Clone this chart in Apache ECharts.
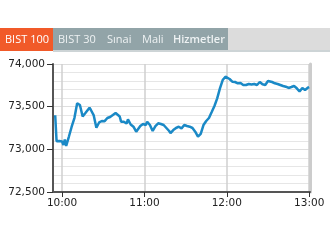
<!DOCTYPE html>
<html><head><meta charset="utf-8">
<script src="https://cdn.jsdelivr.net/npm/echarts@6/dist/echarts.min.js"></script>
<style>html,body{margin:0;padding:0;background:#fff}#c{width:330px;height:247px}</style>
</head><body><div id="c"></div>
<script>
var tabs = ['BIST 100', 'BIST 30', 'Sınai', 'Mali', 'Hizmetler'];
var times = ['09:55','09:56','09:58','10:00','10:01','10:02','10:03','10:05','10:07','10:09','10:11','10:12','10:13','10:15','10:17','10:18','10:20','10:21','10:23','10:25','10:27','10:29','10:31','10:33','10:35','10:37','10:39','10:40','10:42','10:43','10:45','10:47','10:48','10:50','10:52','10:54','10:55','10:57','10:59','11:01','11:02','11:04','11:06','11:08','11:10','11:12','11:14','11:16','11:18','11:19','11:21','11:23','11:25','11:27','11:29','11:31','11:33','11:35','11:37','11:39','11:41','11:43','11:45','11:47','11:49','11:51','11:53','11:55','11:57','11:59','12:00','12:02','12:04','12:06','12:08','12:10','12:12','12:14','12:16','12:18','12:20','12:22','12:24','12:26','12:28','12:30','12:31','12:33','12:35','12:37','12:39','12:41','12:43','12:45','12:47','12:49','12:51','12:53','12:55','12:57','12:59','13:00'];
var values = [73400,73095,73098,73092,73050,73115,73040,73150,73265,73367,73540,73525,73519,73385,73426,73422,73488,73461,73402,73253,73315,73332,73330,73367,73379,73402,73426,73431,73385,73324,73324,73303,73350,73291,73265,73207,73226,73273,73297,73285,73324,73285,73215,73273,73305,73297,73285,73250,73215,73191,73226,73250,73265,73246,73285,73273,73265,73250,73207,73148,73180,73285,73332,73367,73437,73508,73598,73715,73812,73851,73836,73824,73793,73789,73774,73777,73754,73754,73766,73760,73766,73754,73789,73762,73754,73801,73812,73789,73774,73766,73754,73742,73734,73719,73730,73742,73715,73678,73719,73695,73722,73730];
var xTicks = ['10:00','11:00','12:00','13:00'];

function toMin(s){var p=s.split(':');return (+p[0])*60+(+p[1]);}
function fmt(m){var h=Math.floor(m/60),mm=Math.round(m%60);return h+':'+(mm<10?'0':'')+mm;}
var data = times.map(function(t,i){return [toMin(t), values[i]];});
var xVals = xTicks.map(toMin);

var chart = echarts.init(document.getElementById('c'));
var tabX = [5, 58, 107, 142, 173];
var g = [
  {type:'rect', shape:{x:0,y:28,width:53,height:23}, style:{fill:'#f15a29'}},
  {type:'rect', shape:{x:53,y:28,width:175,height:23}, style:{fill:'#92a4a8'}},
  {type:'rect', shape:{x:228,y:28,width:102,height:23}, style:{fill:'#dcdcdc'}},
  {type:'rect', shape:{x:53,y:50,width:277,height:2}, style:{fill:'#cdd4d6'}}
];
tabs.forEach(function(t,i){
  g.push({type:'text', x:tabX[i], y:39.5, style:{text:t, fill: i===0?'#fff':'#eef2f3', font:(i===4?'600 ':'')+'11px "Open Sans"', textVerticalAlign:'middle'}});
});
chart.setOption({
  animation:false,
  backgroundColor:'#fff',
  graphic:g,
  grid:{left:53, right:20, top:64, bottom:55},
  xAxis:{type:'value', min:593.4, max:780.6,
    axisLine:{show:true, onZero:false, lineStyle:{color:'#555', width:2}},
    axisTick:{show:true, length:5, customValues:xVals, lineStyle:{color:'#333', width:1}},
    axisLabel:{customValues:xVals, formatter:function(v){return fmt(v);}, color:'#222', fontSize:10.5, fontFamily:'DejaVu Sans', margin:6},
    splitLine:{show:true, lineStyle:{color:'#cfcfcf', width:1.5}}
  },
  yAxis:[{type:'value', min:72500, max:74000, interval:500,
    axisLine:{show:true, lineStyle:{color:'#555', width:2}},
    axisTick:{show:true, length:6, lineStyle:{color:'#333', width:1}},
    axisLabel:{color:'#222', fontSize:10.5, fontFamily:'DejaVu Sans', margin:8, formatter:function(v){return v.toLocaleString('en-US');}},
    splitLine:{show:true, lineStyle:{color:'#dedede', width:1}},
    minorTick:{show:false, splitNumber:5},
    minorSplitLine:{show:true, lineStyle:{color:'#e6e6e6', width:1}}
  },{type:'value', min:72500, max:74000, position:'right',
    axisLine:{show:true, lineStyle:{color:'#cccccc', width:3}},
    axisTick:{show:false}, axisLabel:{show:false}, splitLine:{show:false}
  }],
  series:[{type:'line', data:data, showSymbol:false, symbol:'none',
    lineStyle:{color:'#1a89c6', width:2.5}, itemStyle:{color:'#1a89c6'}}]
});
</script></body></html>
